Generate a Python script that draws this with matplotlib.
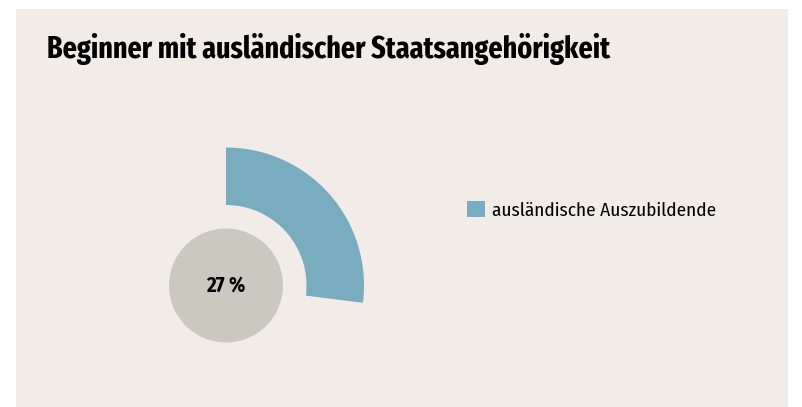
import matplotlib
matplotlib.use('Agg')
import matplotlib.pyplot as plt
from matplotlib.patches import Rectangle, Circle, Patch

# Data
title = 'Beginner mit ausländischer Staatsangehörigkeit'
labels = ['ausländische Auszubildende', 'Rest']
shares = [27, 73]
center_label = '27 %'

bg = '#f1ece8'
blue = '#79acbf'
grey = '#cbc8c0'
font = ['Fira Sans Condensed', 'Roboto Condensed', 'DejaVu Sans']
font_xc = ['Fira Sans Extra Condensed', 'Fira Sans Condensed', 'DejaVu Sans']

W, H = 803, 407
fig = plt.figure(figsize=(W / 100, H / 100), dpi=100)
fig.patch.set_facecolor('white')

# Background panel
fig.patches.append(Rectangle((16 / W, 0), (788 - 16) / W, (H - 9) / H,
                             transform=fig.transFigure, facecolor=bg,
                             edgecolor='none', zorder=-1))

# Title
fig.text(47 / W, 1 - 58 / H, title, fontsize=22, fontweight='bold',
         family=font_xc, color='black', va='baseline', ha='left')

# Donut segment in its own axes, centred at the pixel position
cx, cy, r = 226, 285.5, 138
ax = fig.add_axes([(cx - r) / W, (H - cy - r) / H, 2 * r / W, 2 * r / H])
ax.pie(shares, colors=[blue, 'none'], startangle=90, counterclock=False,
       radius=1, wedgeprops=dict(width=1 - 80.5 / r, edgecolor='none'))
ax.add_patch(Circle((0, 0), 57 / r, facecolor=grey, edgecolor='none'))
ax.text(0, 0, center_label, ha='center', va='center', fontsize=15,
        fontweight='bold', family=font, color='black')
ax.set_xlim(-1, 1)
ax.set_ylim(-1, 1)
ax.set_aspect('equal')
ax.axis('off')

# Legend
handle = Patch(facecolor=blue, edgecolor='none', label=labels[0])
fig.legend(handles=[handle], loc='center left',
           bbox_to_anchor=(467 / W, 1 - 210 / H), frameon=False,
           borderpad=0, borderaxespad=0, handlelength=0.95, handleheight=0.95,
           handletextpad=0.35, prop={'family': font, 'size': 13.8})

fig.savefig('out.png', dpi=100, facecolor=fig.get_facecolor())
